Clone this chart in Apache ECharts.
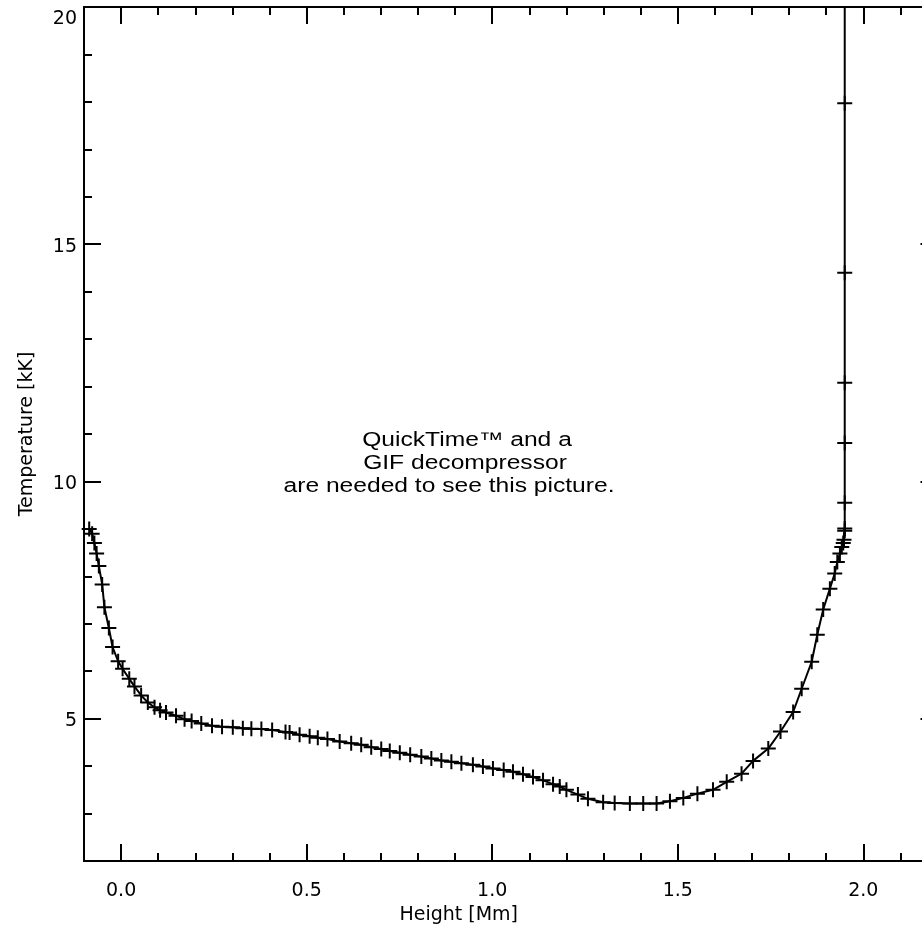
<!DOCTYPE html>
<html>
<head>
<meta charset="utf-8">
<script src="https://cdn.jsdelivr.net/npm/echarts@6/dist/echarts.min.js"></script>
<style>
html,body{margin:0;padding:0;background:#fff;}
#chart{width:922px;height:940px;}
</style>
</head>
<body>
<div id="chart"></div>
<script>
// Height [Mm]
const heights = [
  -0.086, -0.078, -0.072, -0.066, -0.060, -0.051, -0.045, -0.033, -0.023, -0.008,
  0.004, 0.022, 0.036, 0.054, 0.072, 0.090, 0.105, 0.121, 0.148, 0.171, 0.190,
  0.216, 0.245, 0.272, 0.301, 0.328, 0.351, 0.378, 0.407, 0.443, 0.454,
  0.481, 0.508, 0.530, 0.556, 0.589, 0.620, 0.647, 0.674, 0.701, 0.724,
  0.751, 0.779, 0.809, 0.836, 0.863, 0.890, 0.917, 0.948, 0.975, 1.002,
  1.031, 1.056, 1.083, 1.110, 1.137, 1.164, 1.182, 1.200, 1.231, 1.258,
  1.299, 1.330, 1.371, 1.407, 1.443, 1.479, 1.515, 1.553, 1.595, 1.632,
  1.672, 1.703, 1.744, 1.777, 1.811, 1.834, 1.861, 1.876, 1.892, 1.910,
  1.923, 1.930, 1.937, 1.942, 1.946, 1.948, 1.950, 1.950, 1.950, 1.950,
  1.950, 1.950, 1.950, 1.950
];
// Temperature [kK]
const temps = [
  9.00, 8.90, 8.70, 8.48, 8.22, 7.83, 7.35, 6.91, 6.51, 6.21,
  6.05, 5.84, 5.68, 5.49, 5.34, 5.24, 5.18, 5.13, 5.06, 4.99, 4.95,
  4.90, 4.85, 4.83, 4.82, 4.80, 4.79, 4.78, 4.76, 4.72, 4.71,
  4.66, 4.63, 4.60, 4.57, 4.52, 4.48, 4.45, 4.40, 4.36, 4.32,
  4.28, 4.24, 4.20, 4.16, 4.12, 4.09, 4.06, 4.03, 3.99, 3.95,
  3.92, 3.88, 3.83, 3.77, 3.70, 3.62, 3.57, 3.50, 3.40, 3.31,
  3.24, 3.22, 3.21, 3.21, 3.21, 3.26, 3.33, 3.42, 3.50, 3.67,
  3.84, 4.11, 4.37, 4.73, 5.14, 5.63, 6.20, 6.77, 7.30, 7.74,
  8.06, 8.30, 8.48, 8.62, 8.70, 8.77, 8.96, 9.01, 9.55, 10.81,
  12.08, 14.40, 17.97, 60.0
];
const xMajorTicks = [0.0, 0.5, 1.0, 1.5, 2.0];
const yMajorTicks = [5, 10, 15, 20];
const xTitle = 'Height [Mm]';
const yTitle = 'Temperature [kK]';
const overlayLines = ['QuickTime\u2122 and a', 'GIF decompressor', 'are needed to see this picture.'];

const data = heights.map((h, i) => [h, temps[i]]);
const FONT = 'DejaVu Sans';
const FS = 19;
const X_MIN = -0.1, X_MAX = 2.2, Y_MIN = 2, Y_MAX = 20;
const LINE = {color: '#000', width: 2};

function xAxisDef(pos, major, labels) {
  return {
    type: 'value', position: pos, min: X_MIN, max: X_MAX,
    interval: major ? undefined : 0.1,
    axisLine: {show: true, onZero: false, lineStyle: LINE},
    axisTick: major
      ? {show: true, inside: true, length: 17, customValues: xMajorTicks, lineStyle: LINE}
      : {show: true, inside: true, length: 8, lineStyle: LINE},
    axisLabel: labels
      ? {show: true, customValues: xMajorTicks, formatter: v => v.toFixed(1), margin: 21,
         color: '#000', fontFamily: FONT, fontSize: FS}
      : {show: false},
    splitLine: {show: false},
    name: labels ? xTitle : '', nameLocation: 'middle', nameGap: 42,
    nameTextStyle: {color: '#000', fontFamily: FONT, fontSize: FS, padding: [0, 104, 0, 0]}
  };
}
function yAxisDef(pos, major, labels) {
  return {
    type: 'value', position: pos, min: Y_MIN, max: Y_MAX,
    interval: major ? undefined : 1,
    axisLine: {show: true, onZero: false, lineStyle: LINE},
    axisTick: major
      ? {show: true, inside: true, length: 17, customValues: yMajorTicks, lineStyle: LINE}
      : {show: true, inside: true, length: 8, lineStyle: LINE},
    axisLabel: labels
      ? {show: true, customValues: yMajorTicks, margin: 7, color: '#000', fontFamily: FONT, fontSize: FS,
         formatter: v => (v === Y_MAX ? '{top|' + v + '}' : '{n|' + v + '}'),
         rich: {
           top: {padding: [24, 0, 0, 0], fontFamily: FONT, fontSize: FS, color: '#000'},
           n: {padding: [5, 0, 0, 0], fontFamily: FONT, fontSize: FS, color: '#000'}
         }}
      : {show: false},
    splitLine: {show: false},
    name: labels ? yTitle : '', nameLocation: 'middle', nameGap: 47,
    nameTextStyle: {color: '#000', fontFamily: FONT, fontSize: FS}
  };
}

const chart = echarts.init(document.getElementById('chart'), null, {renderer: 'canvas'});
const plusPath = 'path://M-15,-2H-2V-15H2V-2H15V2H2V15H-2V2H-15Z';
const overlayCenters = [467, 465, 449];
chart.setOption({
  animation: false,
  backgroundColor: '#fff',
  grid: {left: 84, top: 7, width: 853.5, height: 854, containLabel: false, outerBoundsMode: 'none'},
  xAxis: [
    xAxisDef('bottom', false, false),
    xAxisDef('bottom', true, true),
    xAxisDef('top', false, false),
    xAxisDef('top', true, false)
  ],
  yAxis: [
    yAxisDef('left', false, false),
    yAxisDef('left', true, true),
    yAxisDef('right', false, false),
    yAxisDef('right', true, false)
  ],
  series: [{
    type: 'line', xAxisIndex: 0, yAxisIndex: 0, data: data,
    symbol: plusPath, symbolSize: 15, showSymbol: true, showAllSymbol: true,
    itemStyle: {color: '#000'}, lineStyle: {color: '#000', width: 2},
    clip: true, silent: true
  }],
  graphic: overlayLines.map((t, i) => ({
    type: 'text', x: overlayCenters[i], y: 430 + i * 23, scaleX: 1.23, scaleY: 1, z: 100,
    style: {text: t, fill: '#000', textAlign: 'center', textVerticalAlign: 'top',
            font: '20px "Liberation Sans", Arial, sans-serif'}
  }))
});
</script>
</body>
</html>
